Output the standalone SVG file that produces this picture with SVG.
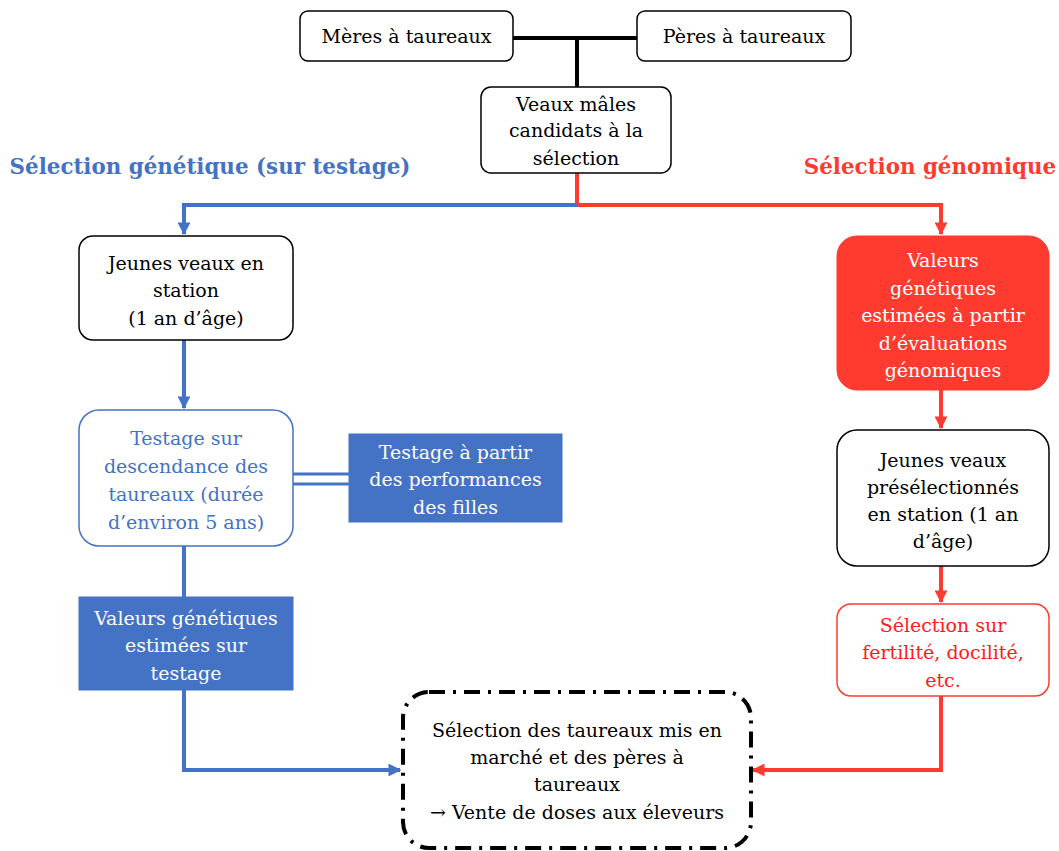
<svg xmlns="http://www.w3.org/2000/svg" width="1059" height="851" viewBox="0 0 1059 851">
<defs>
<style>
text{font-family:"DejaVu Serif","Liberation Serif",serif;font-size:19px;text-anchor:middle}
.t{font-weight:bold;font-size:21.4px}
.box{fill:#fff;stroke:#000;stroke-width:1.5}
.bb{fill:#fff;stroke:#4472C4;stroke-width:1.5}
.rb{fill:#fff;stroke:#FF3B30;stroke-width:1.5}
.bf{fill:#4472C4;stroke:#4472C4;stroke-width:1}
.rf{fill:#FF3B30;stroke:#FF3B30;stroke-width:1}
.bl{stroke:#4472C4;stroke-width:4;fill:none}
.rl{stroke:#FF3B30;stroke-width:4;fill:none}
.kl{stroke:#000;stroke-width:4;fill:none}
</style>
<marker id="ab" viewBox="0 0 10 10" refX="9" refY="5" markerWidth="3.2" markerHeight="3.2" orient="auto" markerUnits="strokeWidth"><path d="M0,0L10,5L0,10z" fill="#4472C4"/></marker>
<marker id="ar" viewBox="0 0 10 10" refX="9" refY="5" markerWidth="3.2" markerHeight="3.2" orient="auto" markerUnits="strokeWidth"><path d="M0,0L10,5L0,10z" fill="#FF3B30"/></marker>
</defs>
<rect width="1059" height="851" fill="#fff"/>
<g id="connectors">
<path class="kl" d="M513,38H637M577,38V87"/>
<path class="rl" d="M577,173V205"/>
<path class="bl" d="M577,205H184V234" marker-end="url(#ab)"/>
<path class="rl" d="M577,205H941V234" marker-end="url(#ar)"/>
<path class="bl" d="M184,340V408" marker-end="url(#ab)"/>
<path stroke="#4472C4" stroke-width="3" d="M293,474H349M293,484H349"/>
<path class="bl" d="M184,546V597"/>
<path class="bl" d="M184,690V770H400" marker-end="url(#ab)"/>
<path class="rl" d="M941,390V428" marker-end="url(#ar)"/>
<path class="rl" d="M941,566V602" marker-end="url(#ar)"/>
<path class="rl" d="M941,696V770H753" marker-end="url(#ar)"/>
</g>
<g id="n-meres"><rect class="box" x="300" y="11" width="213" height="50" rx="8"/><text x="406.5" y="43">Mères à taureaux</text></g>
<g id="n-peres"><rect class="box" x="637" y="11" width="214" height="50" rx="8"/><text x="744" y="43">Pères à taureaux</text></g>
<g id="n-veaux"><rect class="box" x="481" y="87" width="190" height="86" rx="10"/><text x="576" y="111">Veaux mâles</text><text x="576" y="137">candidats à la</text><text x="576" y="165">sélection</text></g>
<g id="t-left"><text class="t" x="210" y="174" fill="#4472C4">Sélection génétique (sur testage)</text></g>
<g id="t-right"><text class="t" x="930" y="174" fill="#FF3B30">Sélection génomique</text></g>
<g id="n-jeunes"><rect class="box" x="79" y="236" width="214" height="104" rx="14"/><text x="186" y="270">Jeunes veaux en</text><text x="186" y="297">station</text><text x="186" y="325">(1 an d’âge)</text></g>
<g id="n-testage"><rect class="bb" x="79" y="410" width="214" height="136" rx="20"/><g fill="#4472C4"><text x="186" y="445">Testage sur</text><text x="186" y="473">descendance des</text><text x="186" y="501">taureaux (durée</text><text x="186" y="529">d’environ 5 ans)</text></g></g>
<g id="n-filles"><rect class="bf" x="349" y="434" width="213" height="88"/><g fill="#fff"><text x="455.5" y="459">Testage à partir</text><text x="455.5" y="486">des performances</text><text x="455.5" y="514">des filles</text></g></g>
<g id="n-valeurs"><rect class="bf" x="79" y="597" width="214" height="93"/><g fill="#fff"><text x="186" y="625">Valeurs génétiques</text><text x="186" y="652">estimées sur</text><text x="186" y="680">testage</text></g></g>
<g id="n-genom"><rect class="rf" x="837" y="236" width="212" height="154" rx="20"/><g fill="#fff"><text x="943" y="267">Valeurs</text><text x="943" y="295">génétiques</text><text x="943" y="322">estimées à partir</text><text x="943" y="350">d’évaluations</text><text x="943" y="377">génomiques</text></g></g>
<g id="n-presel"><rect class="box" x="837" y="430" width="212" height="136" rx="20"/><text x="943" y="467">Jeunes veaux</text><text x="943" y="494">présélectionnés</text><text x="943" y="521">en station (1 an</text><text x="943" y="548">d’âge)</text></g>
<g id="n-fert"><rect class="rb" x="837" y="604" width="212" height="92" rx="14"/><g fill="#FF1A1A"><text x="943" y="632">Sélection sur</text><text x="943" y="659">fertilité, docilité,</text><text x="943" y="687">etc.</text></g></g>
<g id="n-final"><rect x="403" y="692" width="348" height="156" rx="26" fill="#fff" stroke="#000" stroke-width="4" stroke-dasharray="16,8,3,8"/><text x="577" y="737">Sélection des taureaux mis en</text><text x="577" y="764">marché et des pères à</text><text x="577" y="791">taureaux</text><text x="577" y="819">→ Vente de doses aux éleveurs</text></g>
</svg>
